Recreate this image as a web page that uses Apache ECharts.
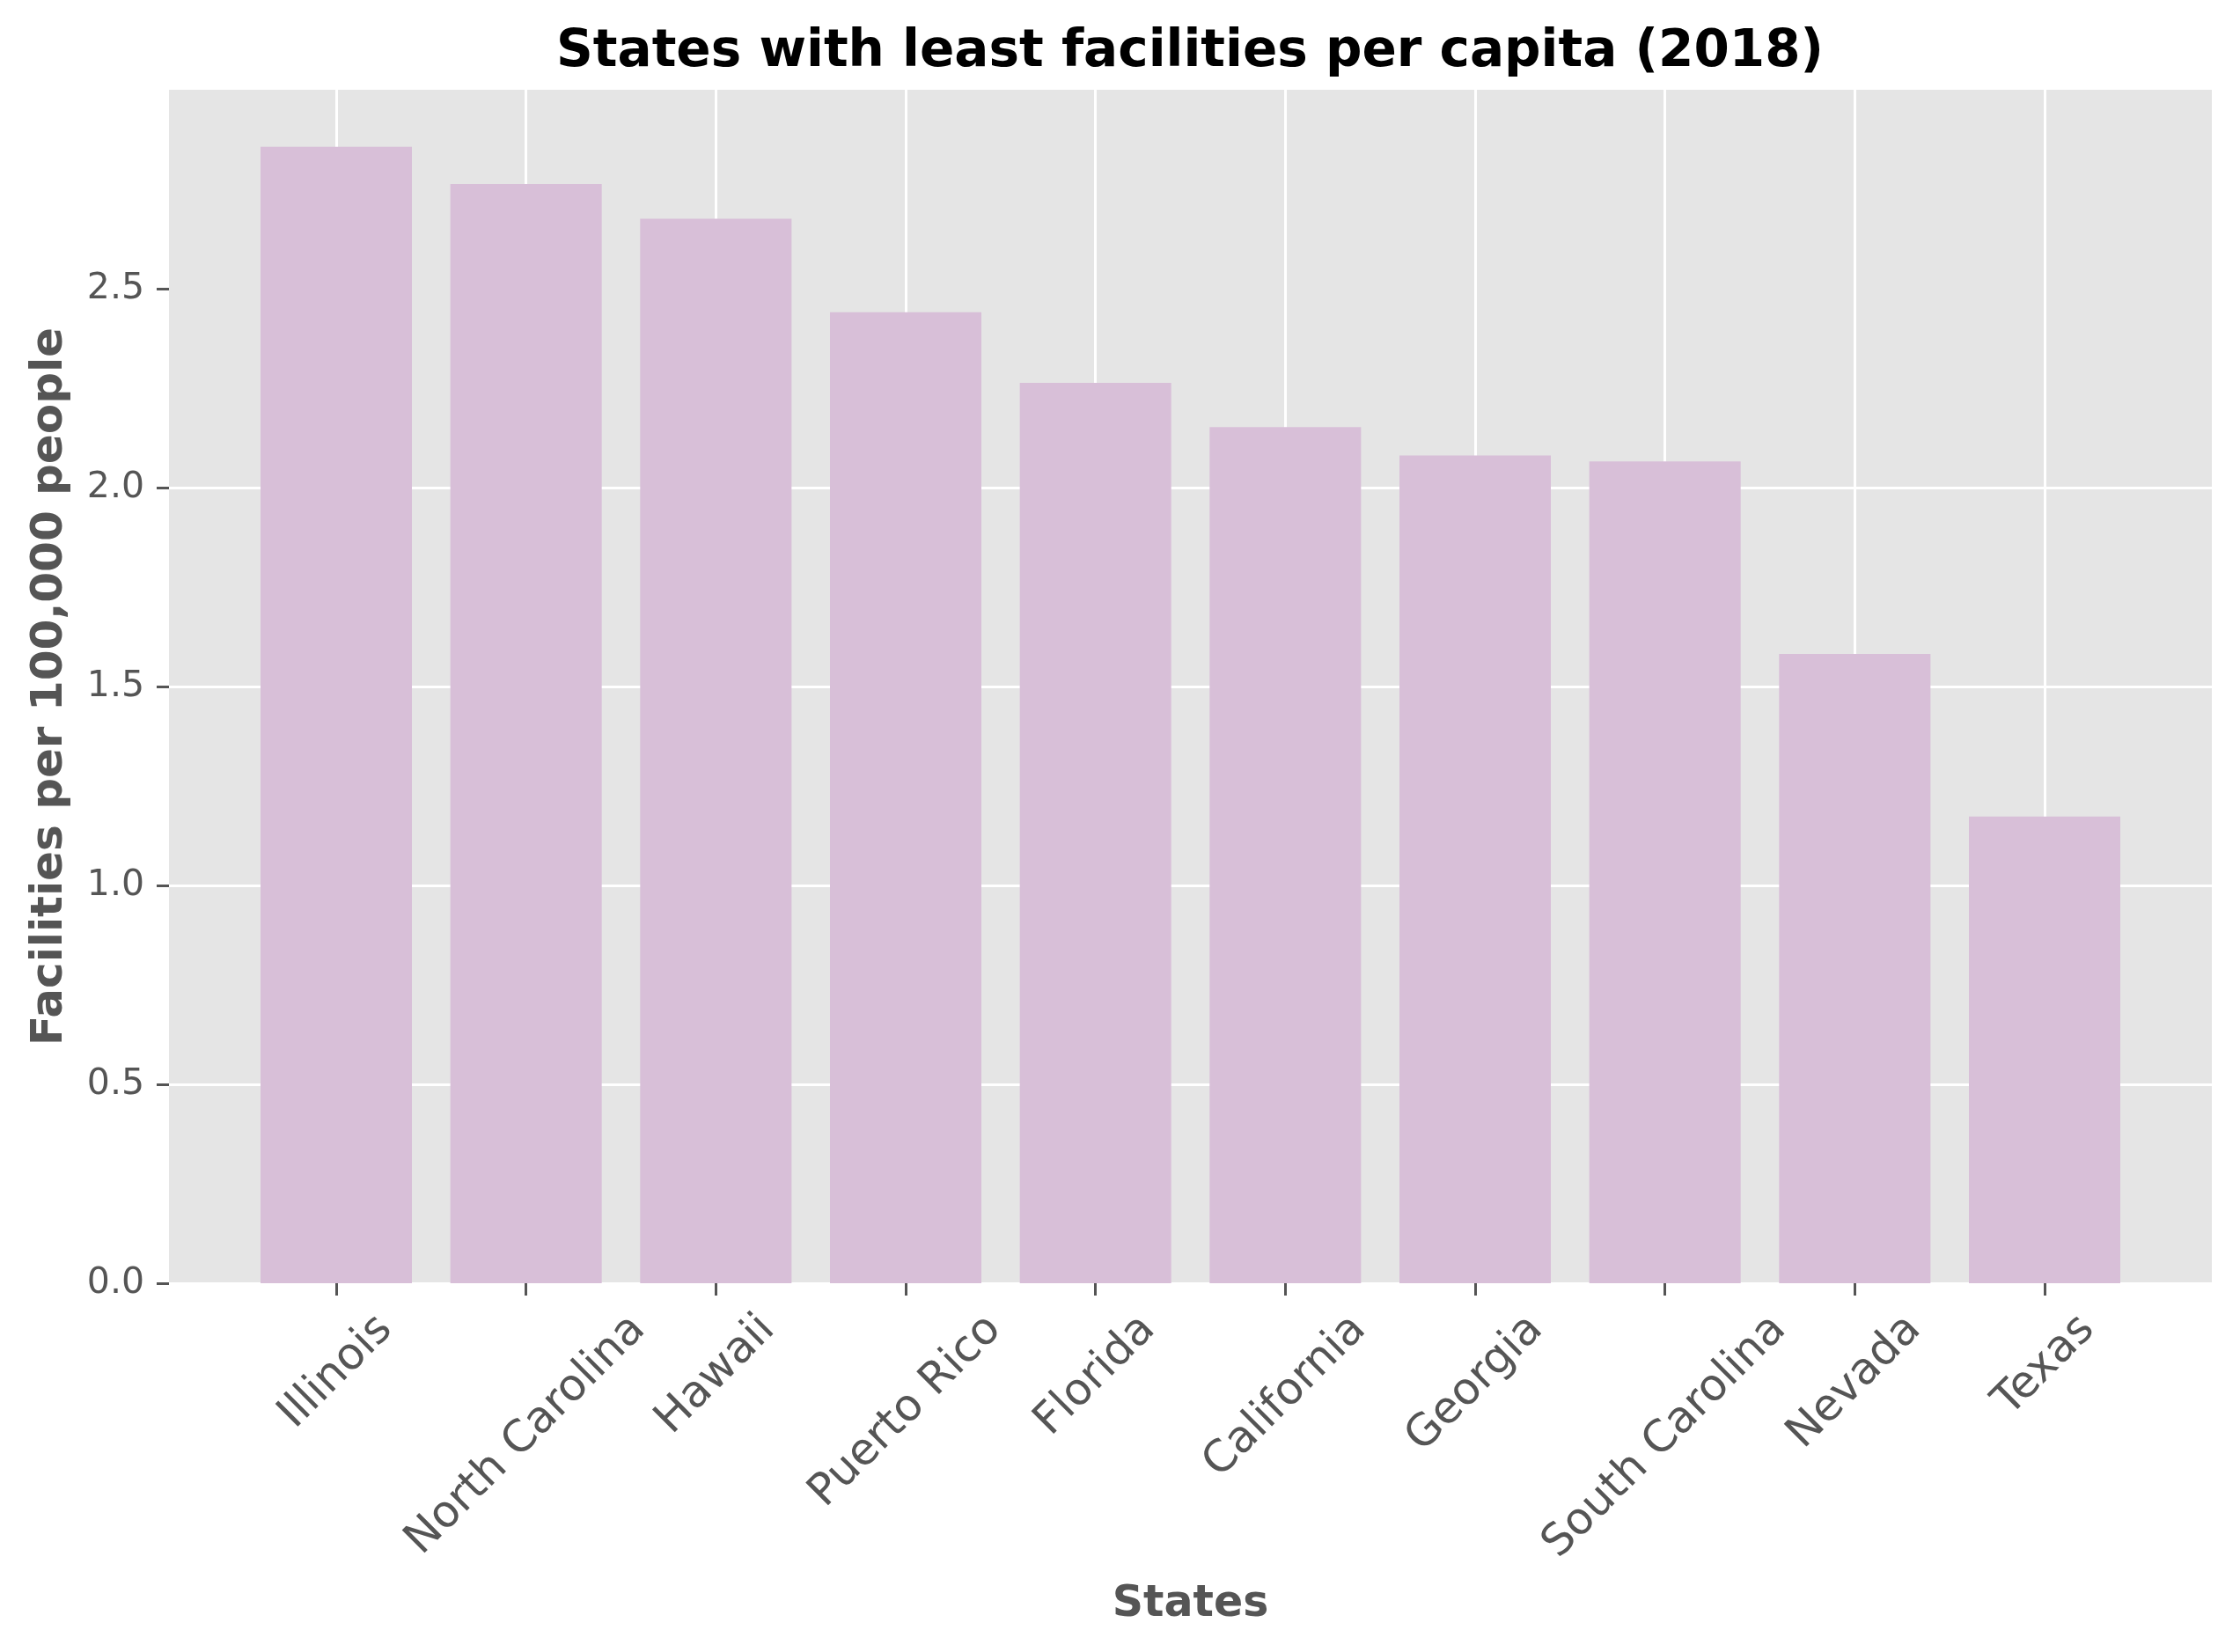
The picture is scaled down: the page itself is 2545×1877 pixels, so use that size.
<!DOCTYPE html>
<html><head><meta charset="utf-8">
<script src="https://cdn.jsdelivr.net/npm/echarts@6/dist/echarts.min.js"></script>
<style>html,body{margin:0;padding:0;background:#fff}#c{width:2545px;height:1877px}</style>
</head><body><div id="c"></div>
<script>
// ---- data ----
const states = ['Illinois','North Carolina','Hawaii','Puerto Rico','Florida','California','Georgia','South Carolina','Nevada','Texas'];
const facilitiesPerCapita = [2.857, 2.763, 2.676, 2.441, 2.263, 2.152, 2.081, 2.066, 1.582, 1.173];
const yTicks = [0, 0.5, 1.0, 1.5, 2.0, 2.5];
const yMax = 3.0;
const titleText = 'States with least facilities per capita (2018)';
const xName = 'States';
const yName = 'Facilities per 100,000 people';

// ---- style ----
const FONT = '"DejaVu Sans", sans-serif';
const GREY = '#555555';
const xLabelSize = 50;
const ctx = document.createElement('canvas').getContext('2d');
ctx.font = xLabelSize + 'px ' + FONT;
const rich = {};
states.forEach((s, i) => {
  const L = ctx.measureText(s).width;
  const p = 0.5 * (L + 48);
  rich['s' + i] = {fontFamily: FONT, fontSize: xLabelSize, lineHeight: 58, color: GREY, padding: [p, p, 0, 0]};
});

const chart = echarts.init(document.getElementById('c'), null, {renderer: 'canvas'});
const tickStyle = {show: true, inside: false, length: 14, lineStyle: {color: GREY, width: 3}};
chart.setOption({
  backgroundColor: '#ffffff',
  animation: false,
  title: {
    text: titleText, left: 1352, top: 31, textAlign: 'center', padding: 0,
    textStyle: {fontFamily: FONT, fontWeight: 'bold', fontSize: 58, color: '#000000'}
  },
  grid: [
    {left: 192, top: 102, width: 2321, height: 1356, show: true, backgroundColor: '#E5E5E5', borderWidth: 0, containLabel: false},
    {left: 382, top: 102, width: 1941, height: 1356, show: false, containLabel: false}
  ],
  xAxis: [
    {gridIndex: 0, type: 'value', min: 0, max: 1, show: false},
    {
      gridIndex: 1, type: 'category', data: states, boundaryGap: false,
      axisLine: {show: false},
      axisTick: Object.assign({interval: 0}, tickStyle),
      axisLabel: {
        interval: 0, rotate: 45, align: 'center', verticalAlign: 'middle', margin: 28,
        formatter: (v, i) => '{s' + i + '|' + v + '}', rich: rich
      },
      splitLine: {show: true, interval: 0, lineStyle: {color: '#ffffff', width: 3}},
      name: xName, nameLocation: 'middle', nameGap: 341, nameMoveOverlap: false,
      nameTextStyle: {fontFamily: FONT, fontWeight: 'bold', fontSize: 49, color: GREY}
    }
  ],
  yAxis: [
    {
      gridIndex: 0, type: 'value', min: 0, max: yMax, interval: 0.5,
      axisLine: {show: false},
      axisTick: Object.assign({customValues: yTicks}, tickStyle),
      axisLabel: {customValues: yTicks, margin: 28, fontFamily: FONT, fontSize: 41, color: GREY,
        formatter: v => v.toFixed(1)},
      splitLine: {show: true, showMaxLine: false, showMinLine: true, lineStyle: {color: '#ffffff', width: 3}},
      name: yName, nameLocation: 'middle', nameGap: 110, nameRotate: 90, nameMoveOverlap: false,
      nameTextStyle: {fontFamily: FONT, fontWeight: 'bold', fontSize: 50, color: GREY}
    },
    {gridIndex: 1, type: 'value', min: 0, max: yMax, show: false}
  ],
  series: [{
    type: 'bar', xAxisIndex: 1, yAxisIndex: 1, data: facilitiesPerCapita,
    barWidth: 172, clip: false,
    itemStyle: {color: '#D8BFD8'}
  }]
});
</script>
</body></html>
